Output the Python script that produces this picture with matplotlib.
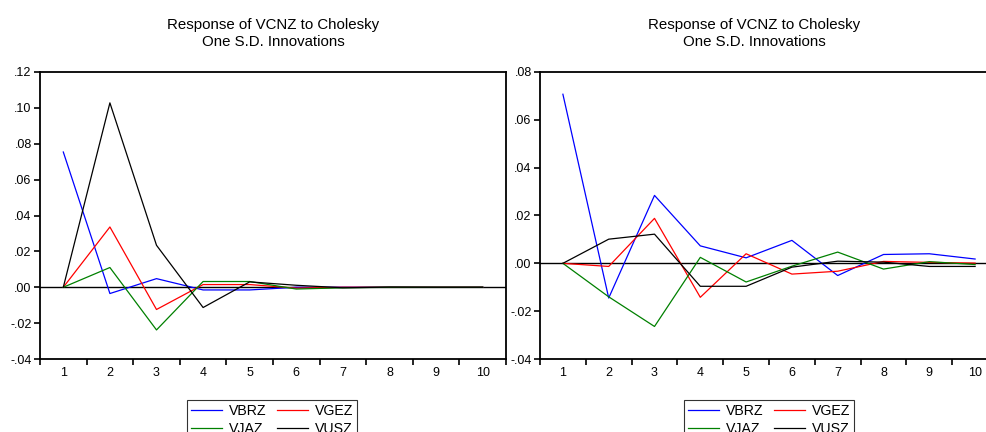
import numpy as np
import matplotlib
matplotlib.use("Agg")
import matplotlib.pyplot as plt
from matplotlib.ticker import FuncFormatter, MultipleLocator

plt.rcParams['font.family'] = ['Liberation Sans', 'DejaVu Sans']

# Data
periods = np.arange(1, 11)
series_names = ['VBRZ', 'VGEZ', 'VJAZ', 'VUSZ']
COLORS = ['blue', 'red', 'green', 'black']

left_vbrz = [0.0754, -0.0035, 0.0048, -0.0015, -0.0015, 0.0, 0.0, 0.0, 0.0, 0.0]
left_vgez = [0.0, 0.0336, -0.0124, 0.0015, 0.0015, -0.0005, 0.0, 0.0, 0.0, 0.0]
left_vjaz = [0.0, 0.0110, -0.0238, 0.0032, 0.0032, -0.0010, -0.0003, 0.0, 0.0, 0.0]
left_vusz = [0.0, 0.1028, 0.0234, -0.0113, 0.0030, 0.0011, -0.0003, 0.0001, 0.0, 0.0]

right_vbrz = [0.0707, -0.0145, 0.0284, 0.0073, 0.0023, 0.0096, -0.0051, 0.0037, 0.0040, 0.0018]
right_vgez = [0.0, -0.0013, 0.0188, -0.0142, 0.0040, -0.0045, -0.0033, 0.0008, 0.0004, 0.0001]
right_vjaz = [0.0, -0.0140, -0.0264, 0.0025, -0.0078, -0.0012, 0.0047, -0.0024, 0.0007, -0.0005]
right_vusz = [0.0, 0.0101, 0.0122, -0.0096, -0.0096, -0.0016, 0.0009, 0.0005, -0.0013, -0.0013]

title = "Response of VCNZ to Cholesky\nOne S.D. Innovations"


def dot_fmt(v, pos):
    s = "%.2f" % v
    if s in ("-0.00", "0.00"):
        return ".00"
    return s.replace("0.", ".", 1)


def draw_panel(ax, data, ylim, ystep):
    lines = []
    for vals, name, c in zip(data, series_names, COLORS):
        ln, = ax.plot(periods, vals, color=c, linewidth=0.9, label=name)
        lines.append(ln)
    ax.axhline(0, color='black', linewidth=1.0, zorder=0)
    ax.set_xlim(0.5, 10.5)
    ax.set_ylim(*ylim)
    ax.set_xticks(periods)
    ax.xaxis.set_minor_locator(MultipleLocator(1, offset=0.5))
    ax.yaxis.set_major_locator(MultipleLocator(ystep))
    ax.yaxis.set_major_formatter(FuncFormatter(dot_fmt))
    ax.tick_params(axis='x', which='major', length=0, labelsize=9, pad=6)
    ax.tick_params(axis='x', which='minor', length=4, width=1.2, direction='out')
    ax.tick_params(axis='y', length=4, width=1.2, direction='out', labelsize=9, pad=2)
    for sp in ax.spines.values():
        sp.set_linewidth(1.3)
    ax.spines['right'].set_visible(False)
    return lines


fig = plt.figure(figsize=(9.87, 4.32), dpi=100)
W, H = 987.0, 432.0
ax1 = fig.add_axes([40 / W, 1 - 359 / H, (506 - 40) / W, (359 - 72) / H])
ax2 = fig.add_axes([540 / W, 1 - 359 / H, (998 - 540) / W, (359 - 72) / H])

l1 = draw_panel(ax1, [left_vbrz, left_vgez, left_vjaz, left_vusz], (-0.04, 0.12), 0.02)
l2 = draw_panel(ax2, [right_vbrz, right_vgez, right_vjaz, right_vusz], (-0.04, 0.08), 0.02)
ax1.spines['right'].set_visible(True)

fig.text(273 / W, 1 - 18 / H, title, ha='center', va='top', fontsize=10.8, linespacing=1.3)
fig.text(754 / W, 1 - 18 / H, title, ha='center', va='top', fontsize=10.8, linespacing=1.3)

# legend rows: VBRZ VGEZ / VJAZ VUSZ (matplotlib fills column by column)
order = [0, 2, 1, 3]
for ax, lines, cx in [(ax1, l1, 272), (ax2, l2, 769)]:
    leg = ax.legend([lines[i] for i in order], [series_names[i] for i in order],
                    loc='upper center', bbox_to_anchor=(cx / W, 1 - 400 / H),
                    bbox_transform=fig.transFigure, ncol=2, fontsize=10.2,
                    frameon=True, fancybox=False, edgecolor='black',
                    handlelength=2.2, columnspacing=0.7, labelspacing=0.3,
                    borderpad=0.25, handletextpad=0.5, borderaxespad=0)
    leg.get_frame().set_linewidth(0.8)

fig.savefig('out.png', dpi=100)
